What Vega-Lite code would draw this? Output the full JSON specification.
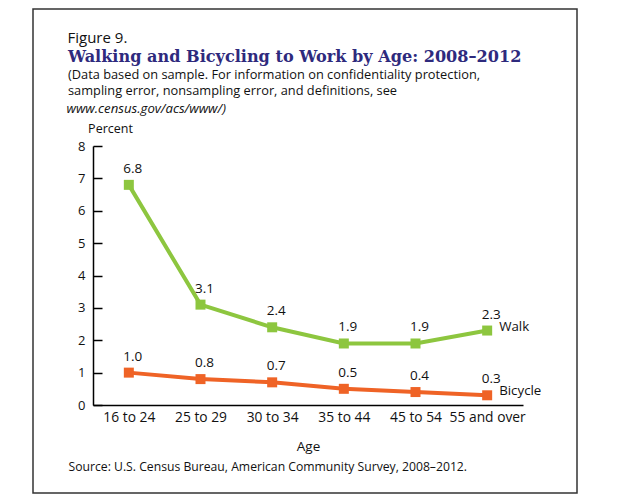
{
  "$schema": "https://vega.github.io/schema/vega-lite/v6.json",
  "autosize": {"type": "none"},
  "padding": {"left": 33, "top": 9, "right": 43, "bottom": 6},
  "width": 544,
  "height": 484,
  "background": "white",
  "title": {
    "text": "Walking and Bicycling to Work by Age: 2008–2012",
    "subtitle": [
      "(Data based on sample. For information on confidentiality protection,",
      "sampling error, nonsampling error, and definitions, see"
    ],
    "anchor": "start",
    "frame": "group",
    "orient": "top",
    "dx": 35,
    "offset": -89,
    "font": "DejaVu Serif",
    "fontSize": 16.1,
    "fontWeight": "bold",
    "color": "#2e2a7d",
    "subtitleFont": "Open Sans",
    "subtitleFontSize": 12.8,
    "subtitleColor": "#111111",
    "subtitleLineHeight": 16.2,
    "subtitlePadding": 4
  },
  "data": {
    "values": [
      {"age": "16 to 24", "series": "Walk", "value": 6.8},
      {"age": "25 to 29", "series": "Walk", "value": 3.1},
      {"age": "30 to 34", "series": "Walk", "value": 2.4},
      {"age": "35 to 44", "series": "Walk", "value": 1.9},
      {"age": "45 to 54", "series": "Walk", "value": 1.9},
      {"age": "55 and over", "series": "Walk", "value": 2.3},
      {"age": "16 to 24", "series": "Bicycle", "value": 1.0},
      {"age": "25 to 29", "series": "Bicycle", "value": 0.8},
      {"age": "30 to 34", "series": "Bicycle", "value": 0.7},
      {"age": "35 to 44", "series": "Bicycle", "value": 0.5},
      {"age": "45 to 54", "series": "Bicycle", "value": 0.4},
      {"age": "55 and over", "series": "Bicycle", "value": 0.3}
    ]
  },
  "layer": [
    {
      "mark": {
        "type": "line",
        "strokeWidth": 4,
        "point": {"shape": "square", "size": 100, "filled": true, "opacity": 1}
      },
      "encoding": {
        "x": {
          "field": "age",
          "type": "ordinal",
          "scale": {
            "type": "point",
            "domain": ["16 to 24", "25 to 29", "30 to 34", "35 to 44", "45 to 54", "55 and over"],
            "range": [60, 490],
            "padding": 0.5
          },
          "axis": {
            "orient": "bottom",
            "offset": -88,
            "title": "Age",
            "ticks": false,
            "labelAngle": 0,
            "labelPadding": 5,
            "labelFont": "Open Sans",
            "labelFontSize": 13.8,
            "labelColor": "#111111",
            "domainColor": "#000000",
            "domainWidth": 1.5,
            "titleFont": "Open Sans",
            "titleFontSize": 13.5,
            "titleFontWeight": "normal",
            "titleColor": "#111111",
            "titleY": 41,
            "titleBaseline": "middle"
          }
        },
        "y": {
          "field": "value",
          "type": "quantitative",
          "scale": {"domain": [0, 8], "range": [396, 137], "nice": false},
          "axis": {
            "orient": "left",
            "offset": -60,
            "values": [0, 1, 2, 3, 4, 5, 6, 7, 8],
            "grid": false,
            "tickSize": -9,
            "tickWidth": 1.5,
            "tickColor": "#000000",
            "labelPadding": 17,
            "labelFont": "Open Sans",
            "labelFontSize": 13,
            "labelColor": "#111111",
            "domainColor": "#000000",
            "domainWidth": 1.5,
            "title": "Percent",
            "titleAngle": 0,
            "titleX": 17,
            "titleY": 119,
            "titleAlign": "center",
            "titleBaseline": "middle",
            "titleFont": "Open Sans",
            "titleFontSize": 12.5,
            "titleFontWeight": "normal",
            "titleColor": "#111111"
          }
        },
        "color": {
          "field": "series",
          "type": "nominal",
          "scale": {"domain": ["Walk", "Bicycle"], "range": ["#8dc63f", "#ef6326"]},
          "legend": null
        }
      }
    },
    {
      "mark": {"type": "text", "dx": 4, "dy": -16, "font": "Open Sans", "fontSize": 13.5, "color": "#111111"},
      "encoding": {
        "x": {
          "field": "age",
          "type": "ordinal",
          "scale": {
            "type": "point",
            "domain": ["16 to 24", "25 to 29", "30 to 34", "35 to 44", "45 to 54", "55 and over"],
            "range": [60, 490],
            "padding": 0.5
          },
          "axis": {
            "orient": "top",
            "domain": false,
            "ticks": false,
            "labels": false,
            "title": "Figure 9.",
            "titleX": 34,
            "titleY": 28,
            "titleAlign": "left",
            "titleBaseline": "middle",
            "titleFont": "Open Sans",
            "titleFontSize": 15,
            "titleFontWeight": "normal",
            "titleColor": "#111111"
          }
        },
        "y": {
          "field": "value",
          "type": "quantitative",
          "scale": {"domain": [0, 8], "range": [396, 137], "nice": false},
          "axis": {
            "orient": "right",
            "domain": false,
            "ticks": false,
            "labels": false,
            "grid": false,
            "title": "www.census.gov/acs/www/)",
            "titleAngle": 0,
            "titleX": -511,
            "titleY": 99.5,
            "titleAlign": "left",
            "titleBaseline": "middle",
            "titleFont": "Open Sans",
            "titleFontSize": 13.2,
            "titleFontWeight": "normal",
            "titleFontStyle": "italic",
            "titleColor": "#111111"
          }
        },
        "text": {"field": "value", "type": "quantitative", "format": ".1f"}
      }
    },
    {
      "transform": [{"filter": "datum.age === '55 and over'"}],
      "mark": {"type": "text", "align": "left", "dx": 12, "dy": -4, "font": "Open Sans", "fontSize": 13.3, "color": "#111111"},
      "encoding": {
        "x": {
          "field": "age",
          "type": "ordinal",
          "scale": {
            "type": "point",
            "domain": ["16 to 24", "25 to 29", "30 to 34", "35 to 44", "45 to 54", "55 and over"],
            "range": [60, 490],
            "padding": 0.5
          },
          "axis": {
            "orient": "bottom",
            "domain": false,
            "ticks": false,
            "labels": false,
            "title": "Source: U.S. Census Bureau, American Community Survey, 2008–2012.",
            "titleX": 35,
            "titleY": -27,
            "titleAlign": "left",
            "titleBaseline": "middle",
            "titleFont": "Open Sans",
            "titleFontSize": 12.2,
            "titleFontWeight": "normal",
            "titleColor": "#111111"
          }
        },
        "y": {
          "field": "value",
          "type": "quantitative",
          "scale": {"domain": [0, 8], "range": [396, 137], "nice": false},
          "axis": null
        },
        "text": {"field": "series", "type": "nominal"}
      }
    }
  ],
  "resolve": {"axis": {"x": "independent", "y": "independent"}},
  "config": {
    "view": {"stroke": "#333333", "strokeWidth": 1.5}
  }
}
